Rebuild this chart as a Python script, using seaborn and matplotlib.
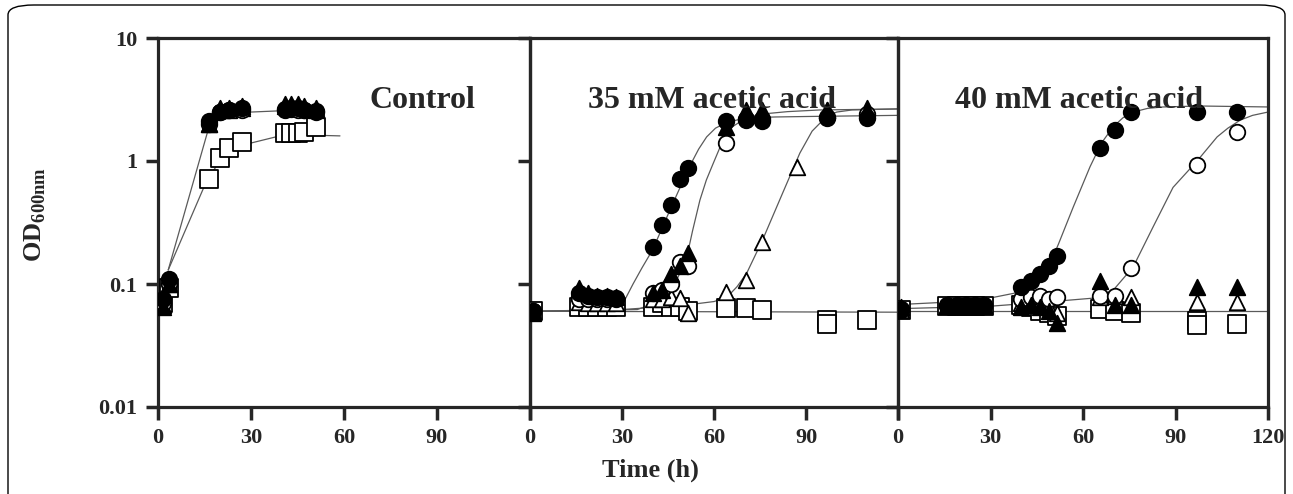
import numpy as np
import pandas as pd
import seaborn as sns
import matplotlib.pyplot as plt
from matplotlib.patches import FancyBboxPatch

# ---- measured points (time in h, OD600) ----
# Control
t_ctrl = [1.5, 3.5, 16.5, 20, 23, 27, 41, 43, 45, 47, 51]
ctrl_fc = [0.075, 0.11, 2.1, 2.5, 2.6, 2.7, 2.65, 2.7, 2.7, 2.6, 2.55]
ctrl_oc = [0.07, 0.10, 2.0, 2.5, 2.6, 2.6, 2.6, 2.65, 2.6, 2.6, 2.5]
ctrl_ft = [0.065, 0.10, 2.0, 2.7, 2.7, 2.8, 2.9, 2.9, 2.9, 2.8, 2.7]
ctrl_ot = [0.068, 0.10, 2.0, 2.6, 2.6, 2.7, 2.8, 2.8, 2.8, 2.7, 2.6]
ctrl_os = [0.07, 0.093, 0.71, 1.06, 1.28, 1.43, 1.69, 1.69, 1.69, 1.72, 1.89]

# 35 mM acetic acid
t_35 = [1, 16, 19, 22, 25, 28, 40, 43, 46, 49, 51.5, 64, 70.5, 75.5, 97, 110]
a35_fc = [0.06, 0.085, 0.08, 0.078, 0.078, 0.077, 0.2, 0.30, 0.44, 0.72, 0.88, 2.1, 2.15, 2.1, 2.24, 2.24]
a35_oc = [0.06, 0.075, 0.075, 0.075, 0.075, 0.075, 0.085, 0.09, 0.1, 0.15, 0.14, 1.4, 2.2, 2.2, 2.3, 2.4]
a35_ft = [0.058, 0.092, 0.085, 0.08, 0.08, 0.078, 0.085, 0.09, 0.12, 0.14, 0.18, 1.9, 2.6, 2.6, 2.6, 2.6]
t_35_ot = [1, 16, 19, 22, 25, 28, 40, 43, 46, 49, 51.5, 64, 70.5, 75.5, 87, 97, 110]
a35_ot = [0.06, 0.072, 0.07, 0.07, 0.07, 0.07, 0.075, 0.075, 0.078, 0.077, 0.058, 0.086, 0.107, 0.22, 0.89, 2.6, 2.7]
t_35_os = [1, 16, 19, 22, 25, 28, 40, 43, 46, 49, 51.5, 64, 70.5, 75.5, 97, 97, 110]
a35_os = [0.06, 0.065, 0.065, 0.065, 0.065, 0.065, 0.065, 0.07, 0.065, 0.065, 0.06, 0.064, 0.064, 0.062, 0.051, 0.047, 0.051]

# 40 mM acetic acid
t_40 = [1, 16, 19, 22, 25, 28, 40, 43, 46, 49, 51.5, 65.5, 70.5, 75.5, 97, 110]
a40_fc = [0.062, 0.068, 0.068, 0.068, 0.068, 0.068, 0.095, 0.105, 0.12, 0.14, 0.17, 1.28, 1.78, 2.5, 2.5, 2.5]
a40_oc = [0.063, 0.066, 0.066, 0.066, 0.066, 0.066, 0.075, 0.078, 0.08, 0.075, 0.078, 0.08, 0.08, 0.135, 0.93, 1.72]
a40_ft = [0.065, 0.068, 0.068, 0.068, 0.068, 0.068, 0.065, 0.068, 0.065, 0.06, 0.048, 0.105, 0.068, 0.068, 0.095, 0.095]
a40_ot = [0.062, 0.066, 0.066, 0.066, 0.066, 0.066, 0.07, 0.072, 0.07, 0.065, 0.058, 0.078, 0.08, 0.078, 0.071, 0.071]
t_40_os = [1, 16, 19, 22, 25, 28, 40, 43, 46, 49, 51.5, 65.5, 70.5, 75.5, 97, 97, 110]
a40_os = [0.062, 0.066, 0.066, 0.066, 0.066, 0.066, 0.068, 0.065, 0.06, 0.058, 0.055, 0.063, 0.06, 0.058, 0.05, 0.046, 0.047]

# ---- fitted curves ----
fit_ctrl_a_t = [3.3, 16.2, 18, 20, 25, 30, 38, 53]
fit_ctrl_a = [0.13, 1.8, 2.1, 2.25, 2.4, 2.5, 2.55, 2.6]
fit_ctrl_b_t = [3.3, 15.8, 19, 22, 26, 30, 38, 47, 58.7]
fit_ctrl_b = [0.13, 0.7, 0.92, 1.08, 1.27, 1.4, 1.57, 1.63, 1.6]

fit_35_a_t = [0, 25, 27, 29.3, 31, 33.6, 36.5, 40, 46.2, 52, 55, 57.6, 60.5, 64, 68, 72.6, 80, 90, 120]
fit_35_a = [0.06, 0.06, 0.061, 0.065, 0.075, 0.10, 0.135, 0.19, 0.43, 0.9, 1.25, 1.57, 1.85, 2.05, 2.17, 2.25, 2.28, 2.3, 2.35]
fit_35_b_t = [0, 35, 42, 45, 48, 51, 53, 55.4, 57.5, 59.7, 62, 66, 70, 75, 84, 94.5, 120]
fit_35_b = [0.06, 0.062, 0.072, 0.085, 0.11, 0.16, 0.27, 0.48, 0.7, 0.95, 1.3, 1.9, 2.2, 2.4, 2.52, 2.6, 2.65]
fit_35_c_t = [0, 30, 50, 60, 64.2, 67.5, 70.7, 75.9, 82.4, 88, 92, 96.7, 100, 105, 120]
fit_35_c = [0.06, 0.062, 0.067, 0.072, 0.078, 0.095, 0.123, 0.23, 0.55, 1.16, 1.75, 2.3, 2.5, 2.6, 2.65]
fit_35_d_t = [0, 120]
fit_35_d = [0.06, 0.059]

fit_40_a_t = [0, 20, 30, 39.6, 46, 49, 52, 56.8, 62.3, 66, 69.8, 73, 76.3, 81, 86, 98, 120]
fit_40_a = [0.068, 0.072, 0.077, 0.086, 0.105, 0.14, 0.21, 0.42, 0.9, 1.4, 1.9, 2.25, 2.5, 2.68, 2.75, 2.8, 2.75]
fit_40_b_t = [0, 30, 50, 64, 69.8, 76.3, 82.7, 89.2, 97, 103.5, 107, 111, 115, 120]
fit_40_b = [0.063, 0.066, 0.072, 0.077, 0.089, 0.138, 0.29, 0.61, 1.0, 1.57, 1.85, 2.15, 2.35, 2.5]
fit_40_c_t = [0, 120]
fit_40_c = [0.06, 0.06]

titles = ['Control', '35 mM acetic acid', '40 mM acetic acid']

sns.set_style('ticks')
plt.rcParams['font.family'] = ['Liberation Serif', 'DejaVu Serif']
plt.rcParams['font.weight'] = 'bold'
plt.rcParams['mathtext.fontset'] = 'custom'
plt.rcParams['mathtext.rm'] = 'Liberation Serif:bold'

fig = plt.figure(figsize=(12.93, 4.94), dpi=100)
W, H = 1293, 494
lefts = [158, 530, 898]
widths = [372, 368, 370]
axes = [fig.add_axes([l / W, 1 - 407 / H, w / W, 369 / H]) for l, w in zip(lefts, widths)]

# outer rounded frame of the figure
fig.patches.append(FancyBboxPatch((8 / W, -0.1), 1277 / W, 1.1 - 5 / H,
                                  boxstyle='round,pad=0,rounding_size=0.02',
                                  transform=fig.transFigure, fill=False,
                                  lw=1.0, ec='black'))

line_kw = dict(color='#5a5a5a', lw=0.9, zorder=2)


def pts(ax, t, v, marker, filled, s=125):
    sns.scatterplot(x=t, y=v, ax=ax, marker=marker, s=s,
                    color='black' if filled else 'white',
                    edgecolor='black', linewidth=1.3, zorder=3, legend=False)


panel_data = [
    (t_ctrl, ctrl_fc, ctrl_oc, ctrl_ft, t_ctrl, ctrl_ot, t_ctrl, ctrl_os,
     [(fit_ctrl_a_t, fit_ctrl_a), (fit_ctrl_b_t, fit_ctrl_b)]),
    (t_35, a35_fc, a35_oc, a35_ft, t_35_ot, a35_ot, t_35_os, a35_os,
     [(fit_35_a_t, fit_35_a), (fit_35_b_t, fit_35_b), (fit_35_c_t, fit_35_c), (fit_35_d_t, fit_35_d)]),
    (t_40, a40_fc, a40_oc, a40_ft, t_40, a40_ot, t_40_os, a40_os,
     [(fit_40_a_t, fit_40_a), (fit_40_b_t, fit_40_b), (fit_40_c_t, fit_40_c)]),
]

for i, (ax, d) in enumerate(zip(axes, panel_data)):
    t, fc, oc, ft, t_ot, ot, t_os, os_, fits = d
    for ft_t, ft_v in fits:
        sns.lineplot(x=ft_t, y=ft_v, ax=ax, estimator=None, sort=False, **line_kw)
    pts(ax, t_os, os_, 's', False, s=150)
    pts(ax, t_ot, ot, '^', False)
    pts(ax, t, oc, 'o', False)
    pts(ax, t, ft, '^', True)
    pts(ax, t, fc, 'o', True)

    ax.set_yscale('log')
    ax.set_ylim(0.01, 10)
    ax.set_xlim(0, 120)
    ax.set_xticks([0, 30, 60, 90, 120])
    ax.set_xticklabels(['0', '30', '60', '90', '120' if i == 2 else ''])
    ax.set_yticks([0.01, 0.1, 1, 10])
    ax.minorticks_off()
    if i == 0:
        ax.set_yticklabels(['0.01', '0.1', '1', '10'])
    else:
        ax.set_yticklabels([])
    ax.tick_params(axis='both', direction='out', length=9, width=2.5,
                   labelsize=16, pad=6)
    for sp in ax.spines.values():
        sp.set_visible(True)
        sp.set_linewidth(2.3)
    ax.set_xlabel('')
    ax.set_ylabel('')
    ax.patch.set_alpha(0)
    for lab in ax.get_xticklabels() + ax.get_yticklabels():
        lab.set_fontweight('bold')

axes[0].text(0.71, 0.83, titles[0], transform=axes[0].transAxes, ha='center',
             va='center', fontsize=23, fontweight='bold')
axes[1].text(0.495, 0.83, titles[1], transform=axes[1].transAxes, ha='center',
             va='center', fontsize=23, fontweight='bold')
axes[2].text(0.49, 0.83, titles[2], transform=axes[2].transAxes, ha='center',
             va='center', fontsize=23, fontweight='bold')

fig.text(650 / W, 1 - 470 / H, 'Time (h)', ha='center', va='center',
         fontsize=19, fontweight='bold')
fig.text(35 / W, 1 - 215 / H, r'OD$_{\rm 600nm}$', ha='center', va='center',
         rotation=90, fontsize=19, fontweight='bold')

fig.savefig('out.png', dpi=100)
